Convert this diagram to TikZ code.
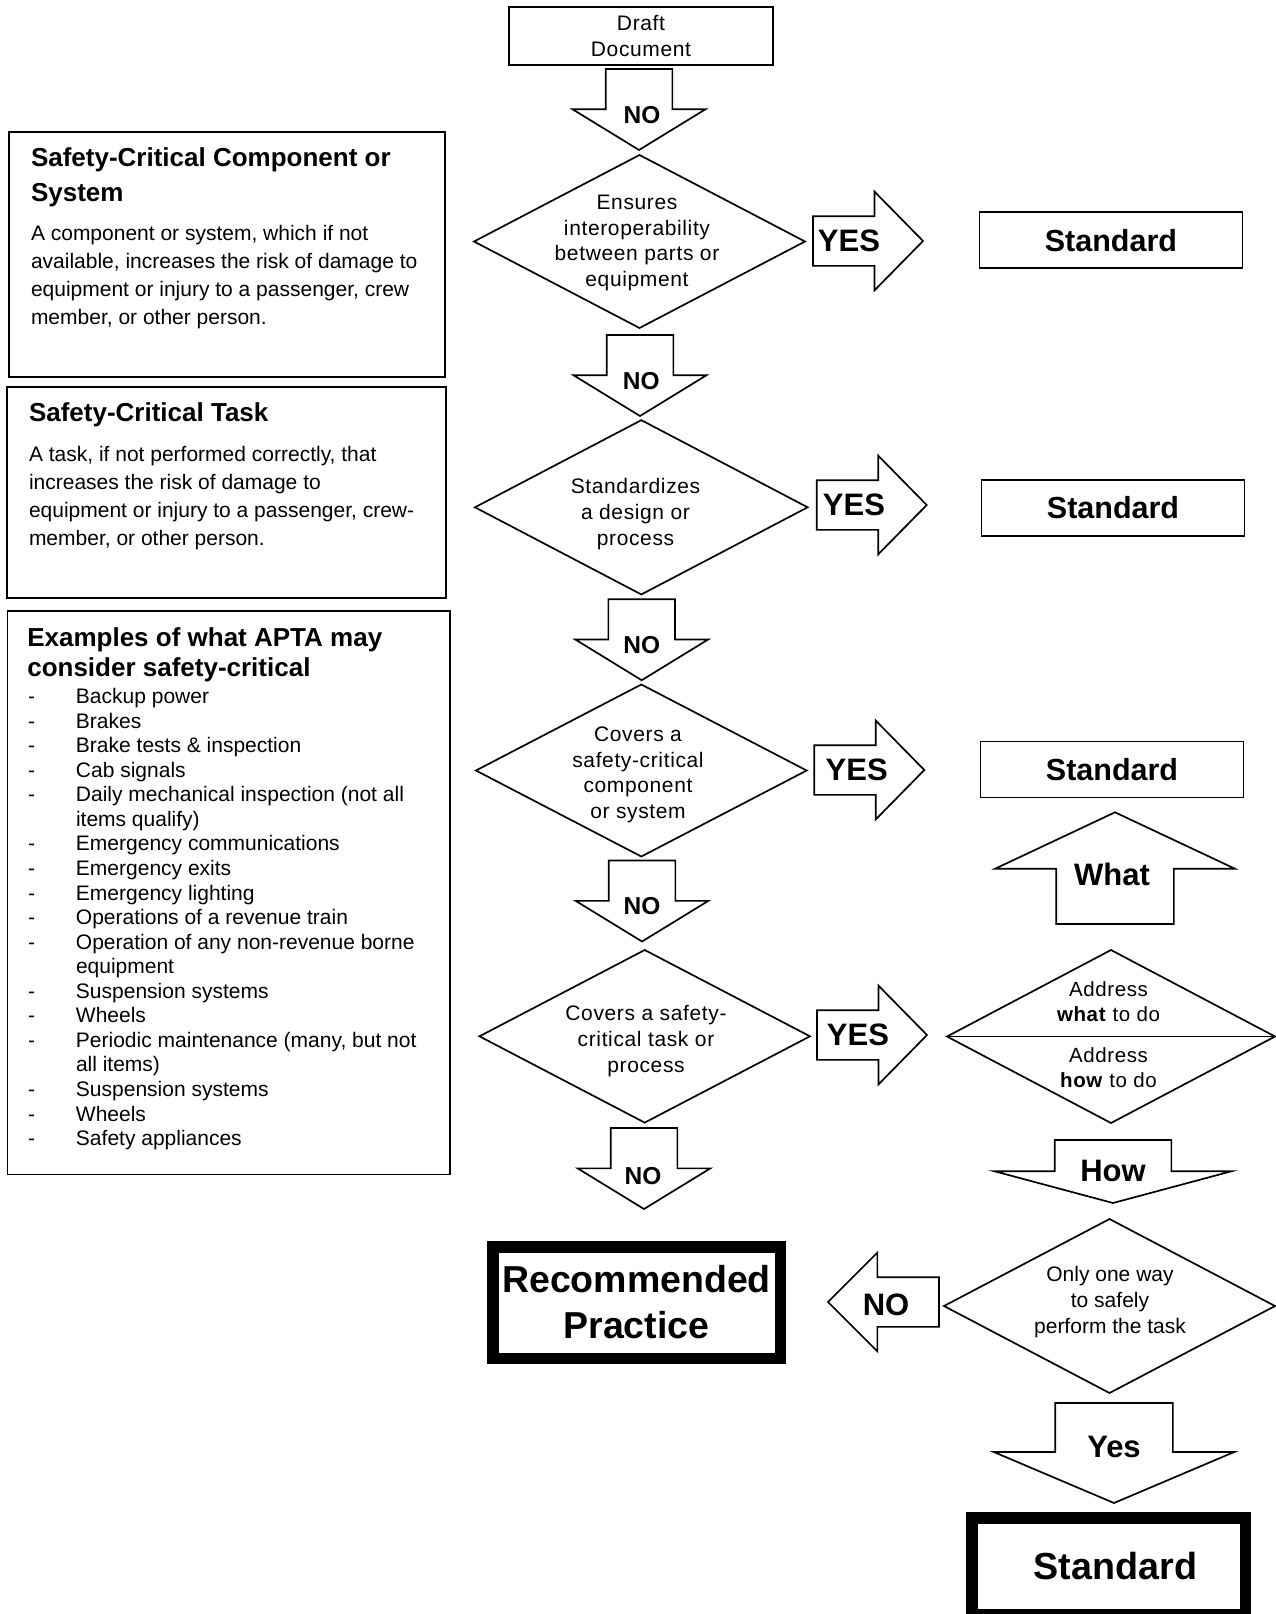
\documentclass[tikz,border=0pt]{standalone}
\usepackage{fontspec}
\setmainfont{Liberation Sans}
\newfontfamily\spacedfont[LetterSpace=3]{Liberation Sans}
\usetikzlibrary{
shapes.geometric,
shapes.arrows,
positioning
}

\newcommand{\dashitem}[1]{\makebox[48pt][l]{-}#1}
\newcommand{\moreitem}[1]{\hspace*{48pt}#1}

\begin{document}
\begin{tikzpicture}[
x=1pt, y=-1pt,
line width=1.7pt,
every node/.style={inner sep=0pt, outer sep=0pt},
box/.style={draw, rectangle},
heavybox/.style={
draw,
rectangle,
line width=11.5pt,
align=center,
font=\bfseries\fontsize{37.5}{46}\selectfont
},
outcome/.style={box, minimum width=263, minimum height=56,
font=\bfseries\fontsize{30.5}{30.5}\selectfont},
decision/.style={draw, diamond, minimum width=331, minimum height=173},
qtext/.style={align=center, font=\spacedfont\fontsize{21}{25.6}\selectfont},
boxtitle/.style={anchor=north west, align=left,
font=\bfseries\fontsize{26}{35}\selectfont},
boxbody/.style={anchor=north west, align=left,
font=\fontsize{21}{27.8}\selectfont},
blockarrow/.style={draw, single arrow, anchor=tip},
noarrow/.style={blockarrow, shape border rotate=270, inner xsep=32.5, inner ysep=0,
minimum height=81, minimum width=131,
single arrow head extend=33, single arrow tip angle=117},
yesarrow/.style={blockarrow, inner xsep=0, inner ysep=24, minimum height=110, minimum width=97,
single arrow head extend=24.5, single arrow tip angle=91},
widearrow/.style={blockarrow, inner xsep=58, inner ysep=0, minimum width=238,
single arrow head extend=61},
arrowtext/.style={font=\bfseries\fontsize{31}{31}\selectfont},
notext/.style={font=\bfseries\fontsize{24.5}{24.5}\selectfont}
]
\useasboundingbox (0,0) rectangle (1276,1614);

% definitions on the left
\node[box, minimum width=436, minimum height=245] (sccs) at (227,254.5) {};
\node[boxtitle] (sccstitle) at (31,147.5) {Safety-Critical Component or\\System};
\node[boxbody] (sccsbody) at (31,225.4) {A component or system, which if not\\available, increases the risk of damage to\\equipment or injury to a passenger, crew\\member, or other person.};

\node[box, minimum width=438.4, minimum height=211] (sct) at (226.5,492.2) {};
\node[boxtitle] (scttitle) at (29,402.5) {Safety-Critical Task};
\node[boxbody] (sctbody) at (29,446.4) {A task, if not performed correctly, that\\increases the risk of damage to\\equipment or injury to a passenger, crew-\\member, or other person.};

\node[box, minimum width=442.7, minimum height=563.5] (apta) at (228.7,892.8) {};
\node[boxtitle, font=\bfseries\fontsize{26}{29.6}\selectfont] (aptatitle) at (27.3,627.8) {Examples of what APTA may\\consider safety-critical};
\node[boxbody, font=\fontsize{21}{24.56}\selectfont] (aptalist) at (28,688.3) {\dashitem{Backup power}\\
\dashitem{Brakes}\\
\dashitem{Brake tests \& inspection}\\
\dashitem{Cab signals}\\
\dashitem{Daily mechanical inspection (not all}\\
\moreitem{items qualify)}\\
\dashitem{Emergency communications}\\
\dashitem{Emergency exits}\\
\dashitem{Emergency lighting}\\
\dashitem{Operations of a revenue train}\\
\dashitem{Operation of any non-revenue borne}\\
\moreitem{equipment}\\
\dashitem{Suspension systems}\\
\dashitem{Wheels}\\
\dashitem{Periodic maintenance (many, but not}\\
\moreitem{all items)}\\
\dashitem{Suspension systems}\\
\dashitem{Wheels}\\
\dashitem{Safety appliances}};

% main column
\node[box, minimum width=264, minimum height=58, align=center,
font=\spacedfont\fontsize{21}{25.3}\selectfont] (draft) at (641,36) {Draft\\Document};

\node[noarrow] (no1) at (639,150) {};
\node[notext] (no1txt) at (642,115) {NO};

\node[decision] (interop) at (639.5,241.5) {};
\node[qtext] (interoptxt) at (637,243) {Ensures\\interoperability\\between parts or\\equipment};
\node[yesarrow] (yes1) at (923,241) {};
\node[arrowtext] (yes1txt) at (849,241) {YES};
\node[outcome] (std1) at (1110.9,240.3) {Standard};

\node[noarrow] (no2) at (640,416) {};
\node[notext] (no2txt) at (641.3,381) {NO};

\node[decision, minimum width=332.7, minimum height=174.3] (design) at (641.3,507.3) {};
\node[qtext] (designtxt) at (635.5,514) {Standardizes\\a design or\\process};
\node[yesarrow] (yes2) at (926.7,505) {};
\node[arrowtext] (yes2txt) at (854,505) {YES};
\node[outcome] (std2) at (1113,508) {Standard};

\node[noarrow] (no3) at (641.7,680.2) {};
\node[notext] (no3txt) at (641.7,645) {NO};

\node[decision, minimum width=330.7, minimum height=172] (component) at (641.3,770.5) {};
\node[qtext] (componenttxt) at (638,775) {Covers a\\safety-critical\\component\\or system};
\node[yesarrow] (yes3) at (924.3,770) {};
\node[arrowtext] (yes3txt) at (856.7,770) {YES};
\node[outcome] (std3) at (1112,769.5) {Standard};

\node[widearrow, shape border rotate=90, minimum height=111.7,
single arrow tip angle=129.6] (what) at (1115,812.3) {};
\node[arrowtext] (whattxt) at (1112,874.5) {What};

\node[noarrow] (no4) at (642,941.5) {};
\node[notext] (no4txt) at (642,906.5) {NO};

\node[decision, minimum width=330.5, minimum height=172.6] (task) at (644.7,1036.3) {};
\node[qtext] (tasktxt) at (646,1041) {Covers a safety-\\critical task or\\process};
\node[yesarrow] (yes4) at (927,1035) {};
\node[arrowtext] (yes4txt) at (858,1035) {YES};

% what or how
\node[decision, minimum width=328] (address) at (1111,1036.5) {};
\draw (address.west) -- (address.east);
\node[qtext, font=\spacedfont\fontsize{20.5}{25}\selectfont] (addresswhat) at (1108.5,1001.7) {Address\\\textbf{what} to do};
\node[qtext, font=\spacedfont\fontsize{20.5}{25}\selectfont] (addresshow) at (1108.5,1067.5) {Address\\\textbf{how} to do};

\node[widearrow, shape border rotate=270, inner xsep=57.5, minimum height=63,
minimum width=236, single arrow head extend=60.5, single arrow tip angle=150] (how) at (1113,1203) {};
\node[arrowtext] (howtxt) at (1113,1171) {How};

\node[noarrow] (no5) at (644,1209) {};
\node[notext] (no5txt) at (643,1176) {NO};

\node[heavybox, minimum width=287.5, minimum height=111.5] (recprac) at (636.5,1302.5) {Recommended\\Practice};

\node[decision, minimum height=174] (oneway) at (1109.5,1306) {};
\node[align=center, font=\fontsize{21}{25.6}\selectfont] (onewaytxt) at (1110,1302) {Only one way\\to safely\\perform the task};
\node[yesarrow, shape border rotate=180, minimum height=111,
single arrow tip angle=90] (no6) at (828,1302) {};
\node[arrowtext] (no6txt) at (886,1305) {NO};

\node[widearrow, shape border rotate=270, minimum height=100,
single arrow head extend=61.5, single arrow tip angle=134] (yes5) at (1114,1503) {};
\node[arrowtext] (yes5txt) at (1114,1447) {Yes};

\node[heavybox, minimum width=273.5, minimum height=97,
font=\bfseries\fontsize{37.7}{46}\selectfont] (final) at (1108.5,1566.25) {\hspace*{14pt}Standard};

\end{tikzpicture}
\end{document}
